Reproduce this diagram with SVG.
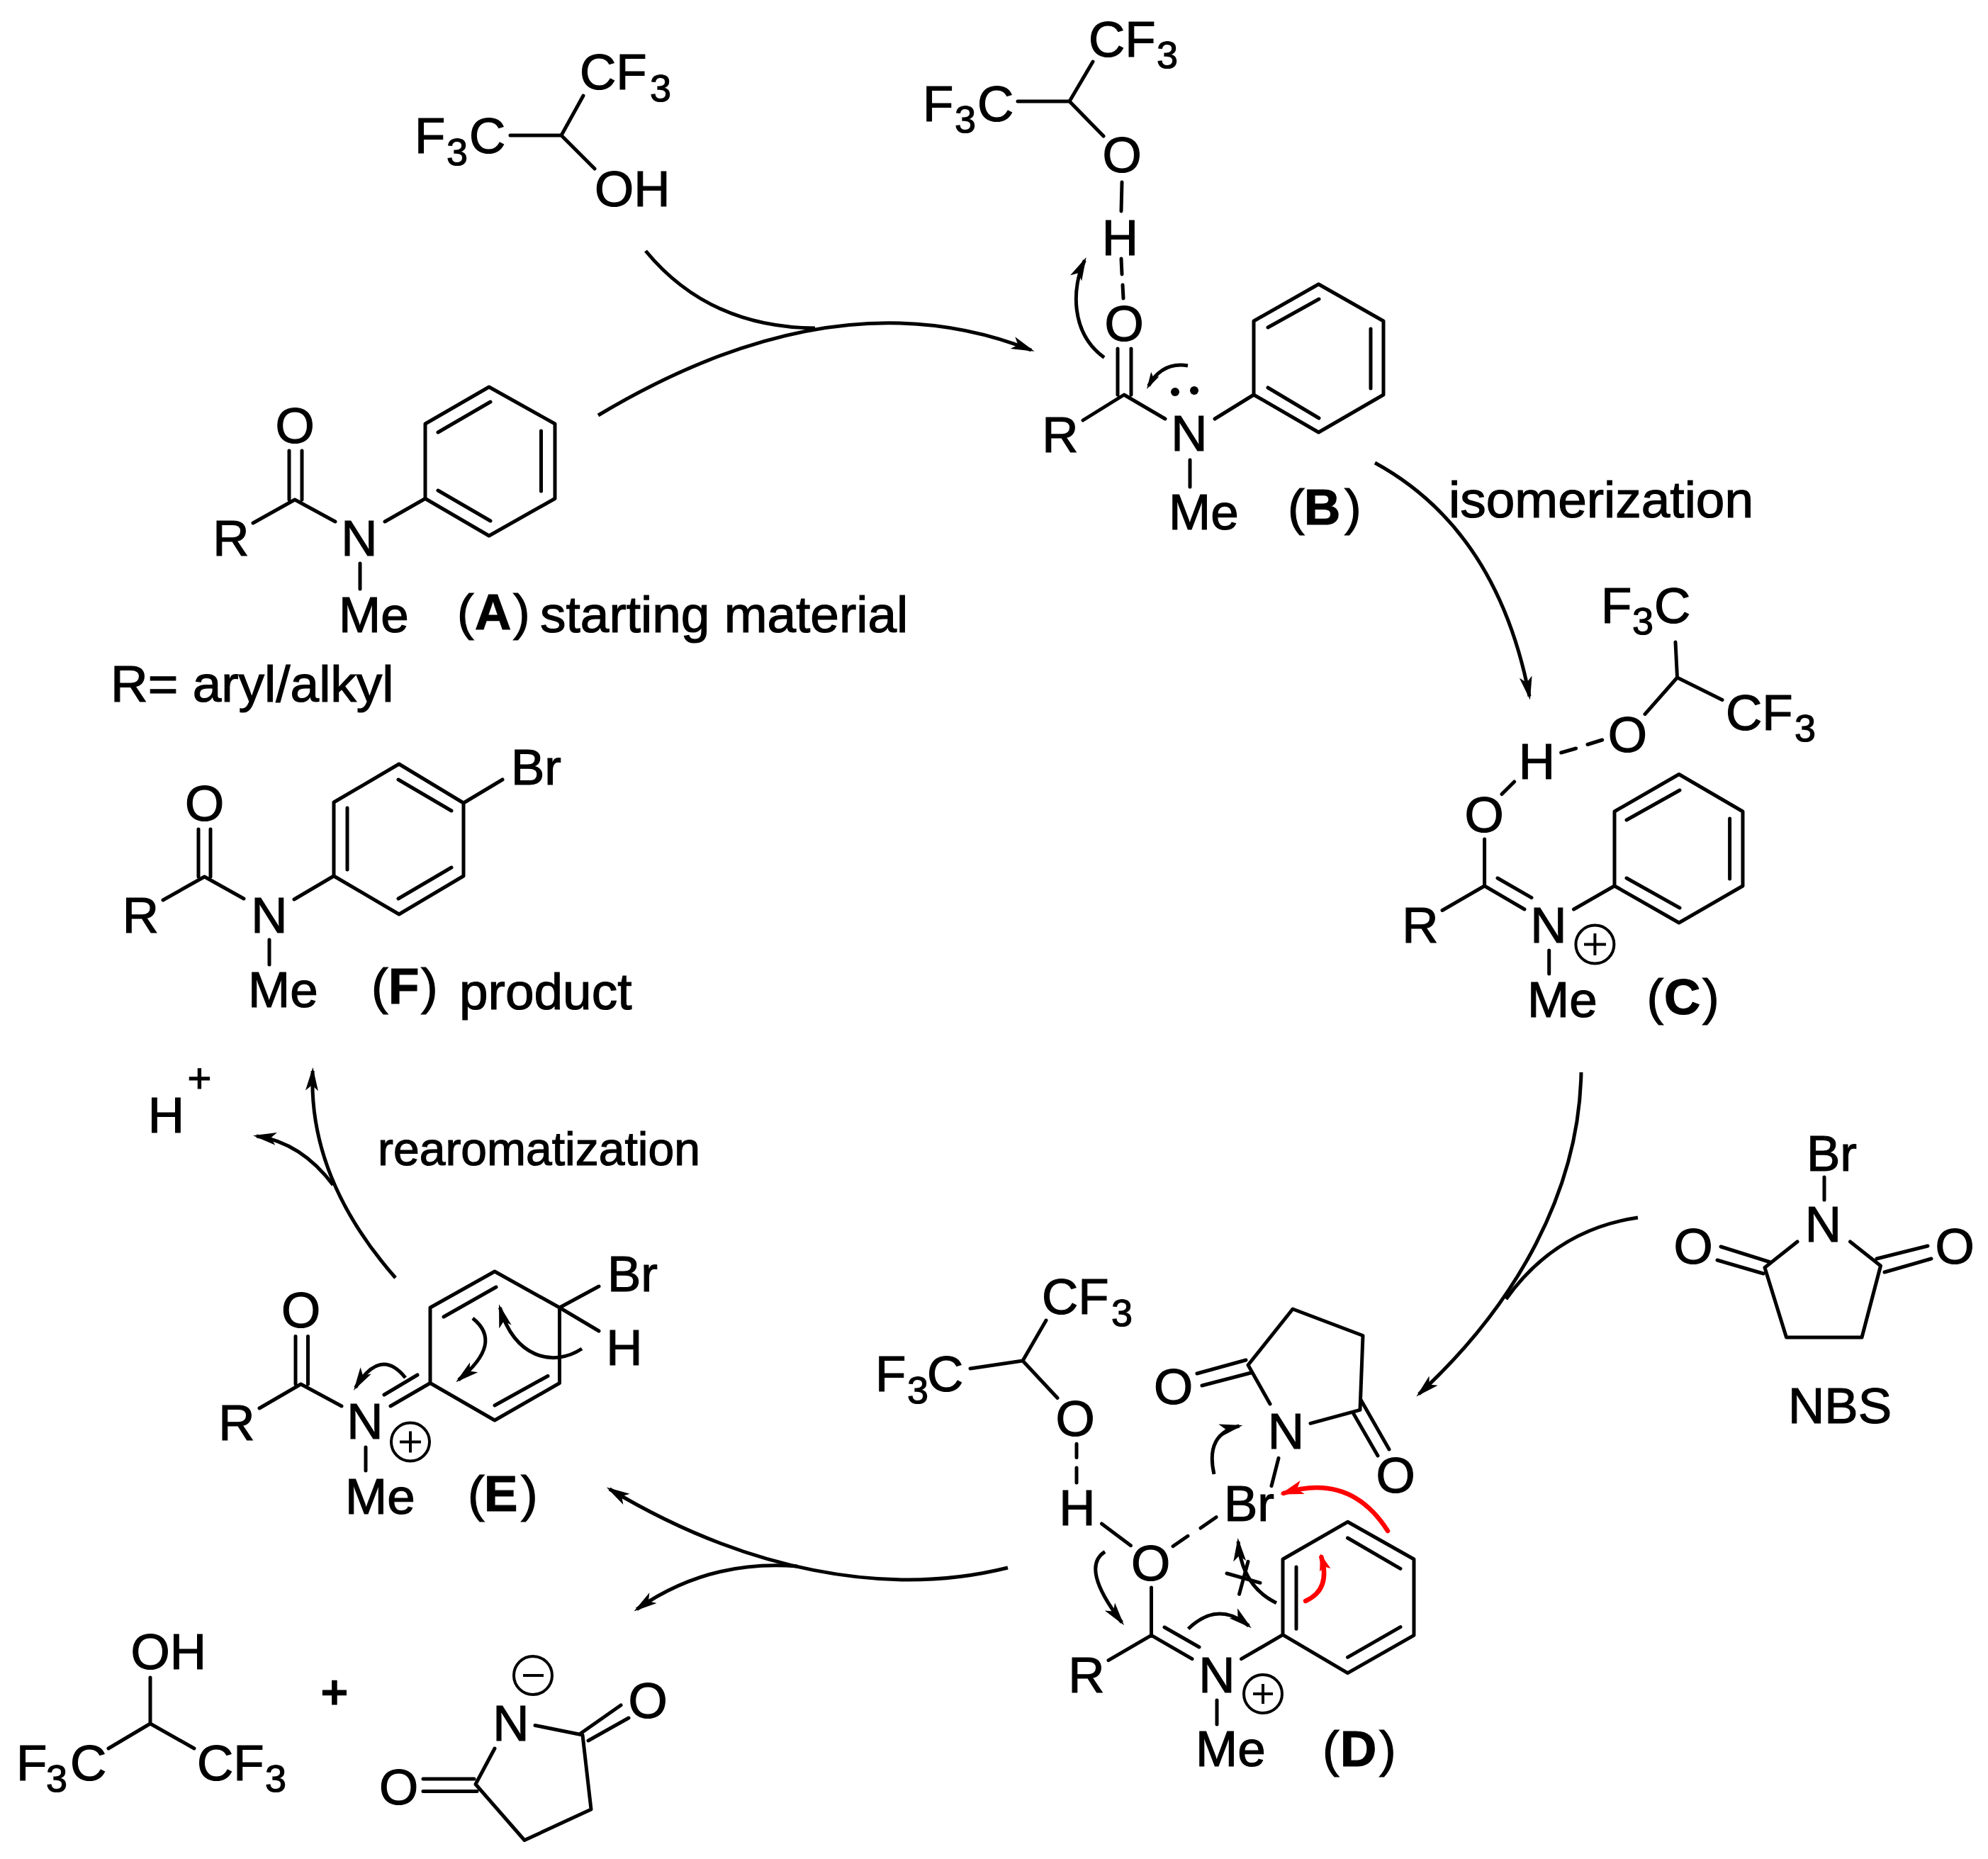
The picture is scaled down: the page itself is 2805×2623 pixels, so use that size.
<svg xmlns="http://www.w3.org/2000/svg" width="2805" height="2623" viewBox="0 0 2805 2623">
<style>
text{font-family:"Liberation Sans",Arial,sans-serif;font-size:71px;fill:#000;stroke:#000;stroke-width:1.2}
.m{text-anchor:middle}
.l{font-size:73px}
.s{font-size:54px}
.bd{font-weight:bold}
.b{fill:none;stroke:#000;stroke-width:5;stroke-linecap:round;stroke-linejoin:round}
.c{fill:none;stroke:#000;stroke-width:4}
.a{fill:none;stroke:#000;stroke-width:5}
.r{fill:none;stroke:#f00;stroke-width:6.5;stroke-linecap:round}
</style>
<defs>
<marker id="ah" markerUnits="userSpaceOnUse" markerWidth="36" markerHeight="22" refX="28" refY="11" orient="auto"><path d="M33,11 L0,2 L8,11 L0,20 Z" fill="#000"/></marker>
<marker id="ahs" markerUnits="userSpaceOnUse" markerWidth="26" markerHeight="16" refX="19" refY="8" orient="auto"><path d="M24,8 L0,1.5 L5,8 L0,14.5 Z" fill="#000"/></marker>
<marker id="ahr" markerUnits="userSpaceOnUse" markerWidth="36" markerHeight="24" refX="28" refY="12" orient="auto"><path d="M33,12 L0,2 L8,12 L0,22 Z" fill="#f00"/></marker>
<marker id="ahrs" markerUnits="userSpaceOnUse" markerWidth="26" markerHeight="20" refX="19" refY="10" orient="auto"><path d="M24,10 L0,2 L5,10 L0,18 Z" fill="#f00"/></marker>
</defs>
<rect width="2805" height="2623" fill="#fff"/>

<g id="hfip-top">
<path class="b" d="M720,191 L792,191 L823,135 M792,191 L839,238"/>
<text x="818" y="126">CF<tspan class="s" x="917" y="143">3</tspan></text>
<text x="585" y="216">F<tspan class="s" x="630" y="233">3</tspan><tspan x="662" y="216">C</tspan></text>
<text x="839" y="291">OH</text>
</g>

<g id="node-A">
<path class="b" d="M690,546 L783,598 L783,703.5 L690,756 L600,703.5 L600,598 Z M618,610 L692,567 M763.5,608 L763.5,693 M618,692 L692,735 M408,636 L408,705 M426,636 L426,705 M357,738 L416,705 L473,736 M543,736 L600,703.5 M508,795 L508,831"/>
<text class="m" x="416" y="625">O</text>
<text class="m" x="326" y="784">R</text>
<text class="m" x="507" y="784">N</text>
<text x="478" y="892">Me</text>
<text y="888"><tspan x="645">(</tspan><tspan class="bd" x="670">A</tspan><tspan x="724">)</tspan></text>
<text class="l" x="762" y="892">starting material</text>
<text class="l" x="156" y="990">R= aryl/alkyl</text>
</g>

<g id="node-B">
<path class="b" d="M1860.5,401 L1952,453 L1952,557 L1860.5,610 L1769,557 L1769,453 Z M1789,462 L1861,422 M1934,464 L1934,548 M1789,547 L1861,590 M1577,492 L1577,557 M1596,492 L1596,557 M1528,593 L1586,557 L1644,591 M1714,591 L1769,557 M1679,649 L1679,687 M1585,421 L1584,402 M1583,387 L1582,365 M1583,257 L1582,298 M1436,143 L1509,143 L1542,87 M1509,143 L1557,192"/>
<circle cx="1658" cy="553" r="6"/><circle cx="1685" cy="551" r="6"/>
<text class="m" x="1586" y="481">O</text>
<text class="m" x="1580.5" y="360">H</text>
<text class="m" x="1583" y="243">O</text>
<text class="m" x="1678" y="636">N</text>
<text class="m" x="1496" y="638">R</text>
<text x="1649" y="747">Me</text>
<text y="740"><tspan x="1817">(</tspan><tspan class="bd" x="1840">B</tspan><tspan x="1897">)</tspan></text>
<text x="1536" y="80">CF<tspan class="s" x="1632" y="96">3</tspan></text>
<text x="1302" y="171">F<tspan class="s" x="1347" y="187">3</tspan><tspan x="1379" y="171">C</tspan></text>
<text class="l" x="2044" y="730">isomerization</text>
</g>

<g id="node-C">
<path class="b" d="M2369,1092.5 L2459,1145 L2459,1250 L2369,1302 L2278,1250 L2278,1145 Z M2295,1157 L2370,1115 M2440.6,1155 L2440.6,1240 M2295,1239 L2370,1281 M2220.5,1283 L2278,1250 M2035,1284.5 L2094.6,1250 L2151,1283 M2113,1239 L2161,1266.6 M2094.6,1184 L2094.6,1250 M2119,1120.6 L2136.6,1103 M2202.7,1062 L2223.6,1056 M2240,1050.5 L2260.7,1044 M2321,1007.7 L2366.5,956 L2364,906 M2366.5,956 L2430,987.6 M2185.7,1341 L2185.7,1374"/>
<circle class="c" cx="2250.4" cy="1332.6" r="27"/><path class="c" d="M2235,1332.6 H2266 M2250.4,1317 V1348"/>
<text class="m" x="2094" y="1174">O</text>
<text class="m" x="2168.5" y="1099">H</text>
<text class="m" x="2296.4" y="1061">O</text>
<text class="m" x="2185" y="1330">N</text>
<text class="m" x="2004" y="1330">R</text>
<text x="2155" y="1435">Me</text>
<text y="1431"><tspan x="2323.6">(</tspan><tspan class="bd" x="2348">C</tspan><tspan x="2402">)</tspan></text>
<text x="2259" y="879">F<tspan class="s" x="2303" y="895">3</tspan><tspan x="2334" y="879">C</tspan></text>
<text x="2435" y="1030">CF<tspan class="s" x="2532" y="1046">3</tspan></text>
</g>

<g id="node-NBS">
<path class="b" d="M2574,1661 L2574,1693 M2536,1752 L2490,1788.5 L2520.5,1887 L2627,1887 L2653.5,1786 L2610.5,1752 M2428,1759 L2498,1781 M2423,1778 L2488,1797 M2648,1776 L2720,1758 M2659,1795 L2725,1776"/>
<text x="2549" y="1652">Br</text>
<text class="m" x="2572.5" y="1752">N</text>
<text class="m" x="2389" y="1783">O</text>
<text class="m" x="2758" y="1783">O</text>
<text x="2523" y="2008">NBS</text>
</g>

<g id="node-D">
<path class="b" d="M1369,1931 L1443,1920 L1476,1863 M1443,1920 L1492,1972.5 M1519,2037.3 L1519,2056.6 M1519,2071 L1519,2092 M1554.5,2150 L1595.5,2180.7 M1655,2181.7 L1676,2167.3 M1694,2156 L1716,2140.7 M1624.5,2240 L1624.5,2307.3 M1564,2342.7 L1624.5,2307.3 L1682,2340.7 M1643,2296 L1692,2324 M1751.5,2340.7 L1810,2306.7 M1810,2200 L1901.5,2147.3 L1995,2200 L1995,2307.3 L1901.5,2360.7 L1810,2306.7 Z M1829,2211 L1829,2298.3 M1901.5,2170 L1976,2213.3 M1901.5,2338.3 L1976,2295.7 M1717,2399 L1717,2433 M1804,2057.3 L1794,2096.7 M1849,2008.3 L1919,1989.3 L1923,1884.5 L1824,1847 L1761,1926 L1792,1981 M1920,1975 L1960,2045 M1909,1993.3 L1944,2054 M1689,1938 L1758,1919 M1696,1955 L1765,1937 M1731,2220 L1778,2233.3 M1761,2203.3 L1748.5,2249.3"/>
<circle class="c" cx="1782" cy="2390" r="27"/><path class="c" d="M1768,2390 H1796 M1782,2376 V2404"/>
<text x="1235" y="1963">F<tspan class="s" x="1280" y="1980">3</tspan><tspan x="1308" y="1963">C</tspan></text>
<text x="1470" y="1854">CF<tspan class="s" x="1568" y="1871">3</tspan></text>
<text class="m" x="1517" y="2026">O</text>
<text class="m" x="1520" y="2152">H</text>
<text class="m" x="1623.5" y="2229.5">O</text>
<text x="1727" y="2145.7">Br</text>
<text class="m" x="1717" y="2388">N</text>
<text class="m" x="1533" y="2388">R</text>
<text x="1687" y="2492">Me</text>
<text y="2492"><tspan x="1866">(</tspan><tspan class="bd" x="1891">D</tspan><tspan x="1946">)</tspan></text>
<text class="m" x="1814.5" y="2044">N</text>
<text class="m" x="1655.5" y="1981">O</text>
<text class="m" x="1969" y="2106">O</text>
</g>

<g id="node-E">
<path class="b" d="M698,1794 L789.5,1845 L789.5,1951.5 L698,2004 L607,1951.5 L607,1845 Z M626,1858 L700,1816 M698,1983 L773,1941.5 M789.5,1845 L845,1815 M789.5,1845 L845,1878 M417,1885.5 L417,1953 M434.5,1885.5 L434.5,1953 M366,1987 L424.5,1953 L482,1984 M607,1951.5 L551,1984 M589,1940 L542,1968 M516,2042 L516,2075"/>
<circle class="c" cx="579" cy="2034.5" r="27"/><path class="c" d="M564,2034.5 H594 M579,2019.5 V2049.5"/>
<text x="857" y="1822">Br</text>
<text class="m" x="881" y="1926">H</text>
<text class="m" x="424.5" y="1873">O</text>
<text class="m" x="334" y="2032">R</text>
<text class="m" x="515" y="2030">N</text>
<text x="487" y="2136">Me</text>
<text y="2132"><tspan x="660">(</tspan><tspan class="bd" x="683">E</tspan><tspan x="735">)</tspan></text>
</g>

<g id="node-F">
<path class="b" d="M563,1078 L654,1133 L654,1236 L563,1290 L471,1236 L471,1132 Z M490,1140 L490,1227 M562,1100 L637,1144 M562,1268 L637,1224 M654,1133 L709,1100 M280,1170 L280,1237 M297,1170 L297,1237 M230,1270 L288.5,1237 L344,1268 M415,1269 L471,1236 M380,1326 L380,1361"/>
<text x="721" y="1107">Br</text>
<text class="m" x="288.5" y="1158">O</text>
<text class="m" x="198.5" y="1316">R</text>
<text class="m" x="380" y="1316">N</text>
<text x="350" y="1421">Me</text>
<text y="1416"><tspan x="524">(</tspan><tspan class="bd" x="548">F</tspan><tspan x="594">)</tspan></text>
<text class="l" x="648" y="1424">product</text>
</g>

<g id="proton">
<text class="m" x="234.5" y="1598">H</text>
<text class="m" x="281.5" y="1541" style="font-size:58px">+</text>
</g>
<text id="label-rearomatization" x="533" y="1644" style="font-size:66px">rearomatization</text>

<g id="hfip-bottom">
<path class="b" d="M212,2367 L212,2432 L153,2467 M212,2432 L274,2467"/>
<text x="184.5" y="2355">OH</text>
<text x="23" y="2512">F<tspan class="s" x="65" y="2528">3</tspan><tspan x="99" y="2512">C</tspan></text>
<text x="278" y="2512">CF<tspan class="s" x="374" y="2528">3</tspan></text>
</g>
<text class="m" id="plus" x="472" y="2410" style="font-size:64px;stroke-width:3">+</text>
<g id="succinimide-anion">
<path class="b" d="M755,2434.5 L822,2448 L834,2553 L740,2596.5 L671,2517.5 L698,2467 M819,2446 L876,2406 M830,2456 L887,2424 M597,2510 L669,2510 M597,2527.5 L673,2527.5"/>
<circle class="c" cx="752" cy="2364" r="27"/><path class="c" d="M738,2364 H767"/>
<text class="m" x="721" y="2456">N</text>
<text class="m" x="914" y="2424">O</text>
<text class="m" x="562.5" y="2546">O</text>
</g>

<g id="connectors">
<path class="a" d="M844,586 Q1180,385 1455,494" marker-end="url(#ah)"/>
<path class="a" d="M911,354 Q1000,462 1150,463"/>
<path class="a" d="M1940,653 Q2112.5,747.5 2158,982.6" marker-end="url(#ah)"/>
<path class="a" d="M2231,1513 C2228,1680 2140,1840 2002,1967" marker-end="url(#ah)"/>
<path class="a" d="M2311,1718 Q2195,1735 2125,1833"/>
<path class="a" d="M1422,2212 C1250,2255 1050,2215 860,2101" marker-end="url(#ah)"/>
<path class="a" d="M1125,2210 Q1000,2200 898.5,2270.6" marker-end="url(#ah)"/>
<path class="a" d="M558,1803 Q434.5,1662 441.2,1511" marker-end="url(#ah)"/>
<path class="a" d="M470,1672 Q425,1612 362,1603" marker-end="url(#ah)"/>
<path class="a" d="M1558,504.5 C1510,470 1512,405 1530.4,367.4" marker-end="url(#ah)"/>
<path class="a" d="M1676,516 Q1640,510 1620.5,544.6" marker-end="url(#ahs)"/>
<path class="a" d="M572,1944 Q537,1900 501.6,1957.7" marker-end="url(#ah)"/>
<path class="a" d="M667,1860 Q711,1895 647,1947" marker-end="url(#ah)"/>
<path class="a" d="M821,1903 C780,1930 725,1915 705.4,1845" marker-end="url(#ah)"/>
<path class="a" d="M1559,2189.3 Q1523.5,2212 1583,2289.3" marker-end="url(#ah)"/>
<path class="a" d="M1676.6,2298.3 Q1718,2258 1762,2294" marker-end="url(#ah)"/>
<path class="a" d="M1801,2261.7 Q1752,2238 1747,2175" marker-end="url(#ah)"/>
<path class="a" d="M1713,2080 Q1700,2023 1748.6,2012" marker-end="url(#ah)"/>
<path class="r" d="M1958,2160 Q1905,2077 1811,2107" marker-end="url(#ahr)"/>
<path class="r" d="M1842,2259 Q1878,2243 1864.4,2197" marker-end="url(#ahrs)"/>
</g>
</svg>
